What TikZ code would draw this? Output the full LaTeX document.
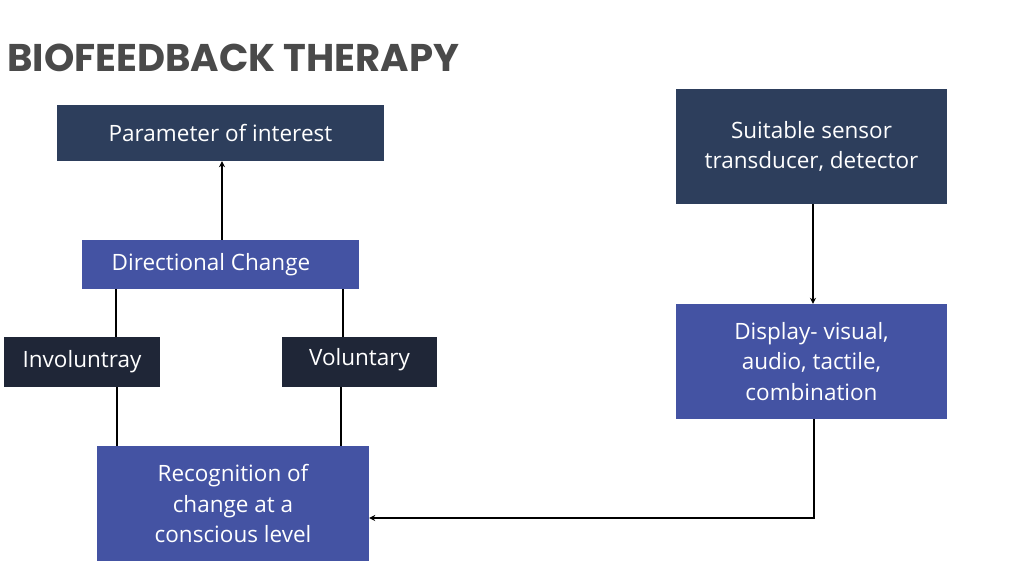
\documentclass[tikz,border=0pt]{standalone}
\usepackage{fontspec}
\setmainfont{Open Sans}
\newfontfamily\titlefont{Poppins}
\usetikzlibrary{arrows.meta}
\definecolor{navy}{HTML}{2D3E5C}
\definecolor{bluebox}{HTML}{4453A3}
\definecolor{darkbox}{HTML}{1F2637}
\definecolor{titlegray}{HTML}{4A4A4A}
\tikzset{
  boxfont/.style={font=\fontsize{22.5}{30.5}\selectfont},
  box/.style={draw=none, text=white, boxfont, align=center, inner sep=0pt},
  link/.style={draw=black, line width=1.3pt},
  arr/.style={link, -{Stealth[length=6pt,width=6pt]}},
}
\begin{document}
\begin{tikzpicture}[x=1pt,y=-1pt]
\useasboundingbox[fill=white] (0,0) rectangle (1024,576);
\node[anchor=west, text=titlegray, font=\titlefont\bfseries\fontsize{38.6}{42}\selectfont, inner sep=0pt] (title) at (7,57.5) {BIOFEEDBACK THERAPY};

\node[box, fill=navy, minimum width=327pt, minimum height=56pt] (param) at (220.5,133) {Parameter of interest};
\node[box, fill=bluebox, minimum width=277pt, minimum height=49pt] (dir) at (220.5,264.5) {};
\node[text=white, boxfont, inner sep=0pt] (dirtext) at (211,264.5) {Directional Change};
\node[box, fill=darkbox, minimum width=156pt, minimum height=50pt] (invol) at (82,362) {Involuntray};
\node[box, fill=darkbox, minimum width=155pt, minimum height=50pt] (vol) at (359.5,362) {};
\node[text=white, boxfont, inner sep=0pt] (voltext) at (359.5,360) {Voluntary};
\node[box, fill=bluebox, minimum width=272pt, minimum height=115pt] (recog) at (233,503.5) {Recognition of\\change at a\\conscious level};
\node[box, fill=navy, minimum width=271pt, minimum height=115pt] (sensor) at (811.5,146.5) {Suitable sensor\\transducer, detector};
\node[box, fill=bluebox, minimum width=271pt, minimum height=115pt] (display) at (811.5,361.5) {Display- visual,\\audio, tactile,\\combination};

\draw[arr] (dir.north -| 222,0) -- (param.south -| 222,0);
\draw[link] (dir.south -| 116,0) -- (invol.north -| 116,0);
\draw[link] (invol.south -| 117,0) -- (recog.north -| 117,0);
\draw[link] (dir.south -| 343,0) -- (vol.north -| 343,0);
\draw[link] (vol.south -| 341,0) -- (recog.north -| 341,0);
\draw[arr] (sensor.south -| 813,0) -- (display.north -| 813,0);
\coordinate (corner) at (814,518);
\draw[arr] (display.south -| 814,0) -- (corner) -- (recog.east |- corner);
\end{tikzpicture}
\end{document}
